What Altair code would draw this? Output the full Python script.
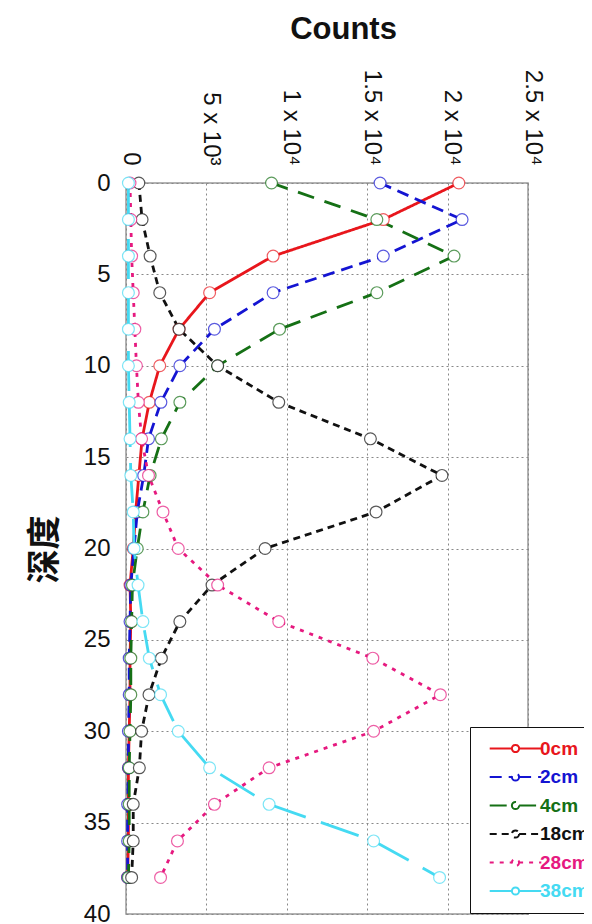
import altair as alt
import pandas as pd

depths = list(range(0, 40, 2))

series_names = ["0cm", "2cm", "4cm", "18cm", "28cm", "38cm"]
series_colors = ["#e8161c", "#1414d2", "#157015", "#111111", "#e6197f", "#45daf2"]
series_dashes = [[1, 0], [12, 7], [17, 11], [7, 5], [4, 6], [40, 16]]

v_0cm = [20700, 16000, 9150, 5200, 3300, 2100, 1450, 1000, 800, 600,
         450, 250, 300, 250, 250, 200, 150, 150, 150, 100]
v_2cm = [15800, 20900, 16000, 9150, 5500, 3350, 2170, 1400, 1100, 700,
         500, 300, 250, 200, 200, 150, 150, 100, 100, 100]
v_4cm = [9050, 15600, 20400, 15600, 9550, 5700, 3350, 2200, 1500, 1050,
         700, 400, 350, 300, 300, 250, 200, 200, 200, 150]
v_18cm = [800, 1000, 1500, 2100, 3300, 5700, 9500, 15200, 19650, 15550,
          8650, 5350, 3350, 2200, 1430, 970, 830, 450, 450, 350]
v_28cm = [250, 300, 350, 450, 550, 650, 770, 970, 1400, 2300,
          3250, 5700, 9500, 15350, 19550, 15400, 8900, 5500, 3200, 2150]
v_38cm = [150, 150, 150, 150, 150, 150, 200, 250, 300, 450,
          500, 750, 1050, 1450, 2150, 3250, 5200, 8900, 15400, 19500]
all_values = [v_0cm, v_2cm, v_4cm, v_18cm, v_28cm, v_38cm]

x_tick_values = [0, 5000, 10000, 15000, 20000, 25000]
x_tick_labels = ["0", "5 x 10³", "1 x 10⁴", "1.5 x 10⁴", "2 x 10⁴", "2.5 x 10⁴"]
y_tick_values = [0, 5, 10, 15, 20, 25, 30, 35, 40]

rows = []
for name, color, vals in zip(series_names, series_colors, all_values):
    for d, v in zip(depths, vals):
        rows.append({"depth": d, "counts": v, "series": name, "hex": color})
df = pd.DataFrame(rows)

label_expr = " : ".join(
    f"datum.value == {v} ? '{t}'" for v, t in zip(x_tick_values, x_tick_labels)
) + " : ''"
color_expr = " : ".join(
    f"datum.label == '{n}' ? '{c}'" for n, c in zip(series_names, series_colors)
) + " : 'black'"

FONT = "Liberation Sans"

x_enc = alt.X(
    "counts:Q",
    scale=alt.Scale(domain=[0, 25000], nice=False, zero=False),
    axis=alt.Axis(
        orient="top", values=x_tick_values, labelExpr=label_expr,
        labelAngle=90, labelAlign="right", labelBaseline="middle",
        labelPadding=18, labelOffset=4, labelFontSize=24, labelFont=FONT,
        labelColor="#111", labelFlush=False, labelOverlap=False,
        ticks=False, domain=False, grid=True, gridDash=[2, 3],
        gridColor="#888", gridWidth=1,
        title="Counts", titleFont=FONT, titleFontSize=31, titleFontWeight="bold",
        titleColor="#111", titleX=217, titleY=-154, titleAngle=0,
        titleAlign="center", titleBaseline="middle",
    ),
)
y_enc = alt.Y(
    "depth:Q",
    scale=alt.Scale(domain=[0, 40], nice=False, zero=False, reverse=True),
    axis=alt.Axis(
        values=y_tick_values, labelFontSize=24, labelFont=FONT, labelColor="#111",
        labelPadding=16, labelFlush=False, labelOverlap=False,
        ticks=False, domain=False, grid=True, gridDash=[2, 3],
        gridColor="#888", gridWidth=1,
        title="深度", titleFont="Noto Sans CJK SC", titleFontSize=34,
        titleFontWeight="bold", titleColor="#111", titleX=-81, titleY=366,
        titleAngle=-90, titleAlign="center", titleBaseline="middle",
    ),
)

legend = alt.Legend(
    title=None, orient="none", legendX=344, legendY=544,
    strokeColor="#111", fillColor="white", padding=12,
    labelFont=FONT, labelFontSize=19, labelFontWeight="bold",
    labelColor={"expr": color_expr},
    symbolType="M-4.3,0L-0.6,0M0.6,0L4.3,0M0.6,0A0.6,0.6,0,1,1,-0.6,0A0.6,0.6,0,1,1,0.6,0Z",
    symbolSize=144, symbolStrokeWidth=2, symbolOffset=24, labelOffset=15,
    rowPadding=8.5,
)

lines = alt.Chart(df).mark_line(strokeWidth=2.8).encode(
    x=x_enc, y=y_enc,
    color=alt.Color("series:N", scale=alt.Scale(domain=series_names, range=series_colors),
                    legend=legend),
    strokeDash=alt.StrokeDash("series:N", scale=alt.Scale(domain=series_names, range=series_dashes),
                              legend=legend),
    order=alt.Order("depth:Q"),
)

points = alt.Chart(df).mark_point(
    shape="circle", filled=False, fill="white", fillOpacity=1, size=140,
    strokeWidth=1.2, strokeOpacity=0.7,
).encode(
    x=x_enc, y=y_enc,
    stroke=alt.Stroke("hex:N", scale=None),
)

chart = alt.layer(lines, points).properties(
    width=402, height=731,
    padding={"left": 118, "top": 175, "right": 56, "bottom": 10},
    autosize=alt.AutoSizeParams(type="none"),
    background="white",
).configure_view(stroke="#999", strokeWidth=1.5)

chart.save("out.html", embed_options={"renderer": "svg", "actions": False})
